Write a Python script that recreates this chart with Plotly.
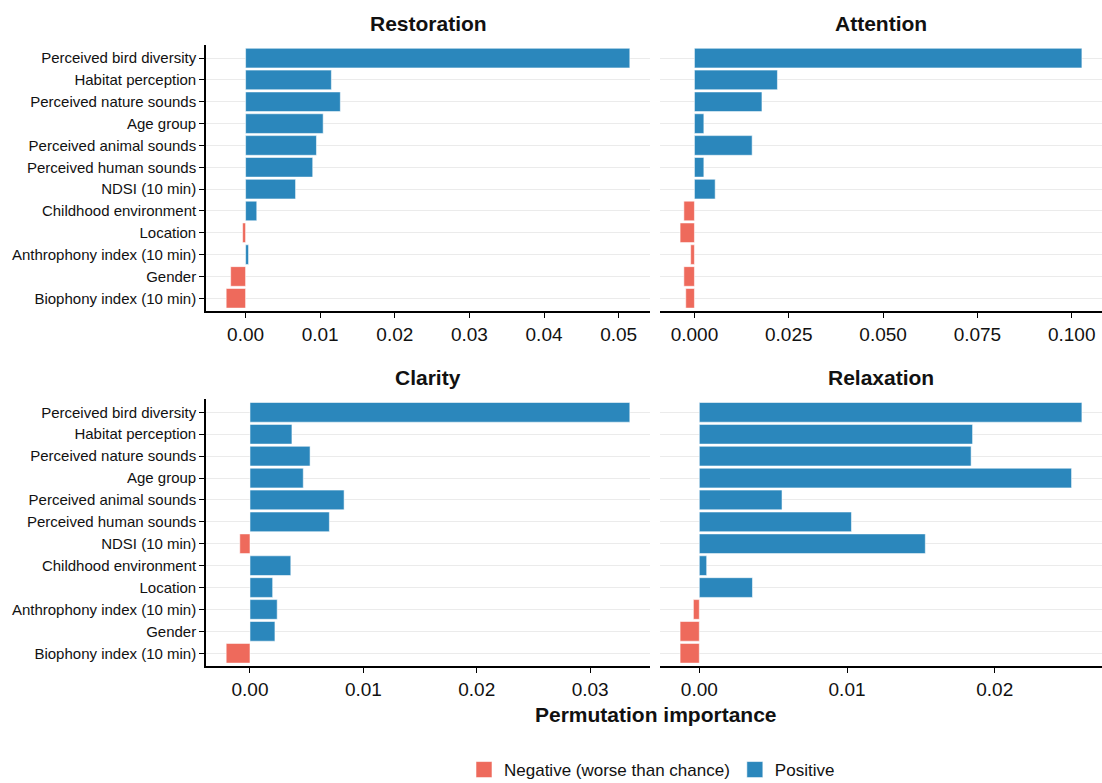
import plotly.graph_objects as go

# ---------------- data ----------------
features = [
    "Perceived bird diversity", "Habitat perception", "Perceived nature sounds",
    "Age group", "Perceived animal sounds", "Perceived human sounds",
    "NDSI (10 min)", "Childhood environment", "Location",
    "Anthrophony index (10 min)", "Gender", "Biophony index (10 min)",
]
outcomes = ["Restoration", "Attention", "Clarity", "Relaxation"]

restoration = [0.0515, 0.0115, 0.0127, 0.0104, 0.0095, 0.0090,
               0.0067, 0.0015, -0.0004, 0.0004, -0.0020, -0.0026]
attention = [0.1027, 0.0220, 0.0179, 0.0025, 0.0153, 0.0025,
             0.0055, -0.0028, -0.0038, -0.0010, -0.0028, -0.0023]
clarity = [0.0335, 0.0037, 0.0053, 0.0047, 0.0083, 0.0070,
           -0.0009, 0.0036, 0.0020, 0.0024, 0.0022, -0.0021]
relaxation = [0.0259, 0.0185, 0.0184, 0.0252, 0.0056, 0.0103,
              0.0153, 0.0005, 0.0036, -0.0004, -0.0013, -0.0013]

x_dticks = [0.01, 0.025, 0.01, 0.01]
x_formats = [".2f", ".3f", ".2f", ".2f"]

legend_names = ["Negative (worse than chance)", "Positive"]
colors = {"neg": "#EE6A5C", "pos": "#2B87BC"}

series = [restoration, attention, clarity, relaxation]

# ---------------- layout geometry ----------------
W, H = 1102, 783
ML, MR, MT, MB = 206, 0, 45, 116
PW, PH = W - ML - MR, H - MT - MB


def clamp(v):
    return max(0.0, min(1.0, v))


def px_x(a, b):
    return [clamp((a - ML) / PW), clamp((b - ML) / PW)]


def px_y(top, bottom):
    return [clamp((MT + PH - bottom) / PH), clamp((MT + PH - top) / PH)]


x_domains = [px_x(206, 650), px_x(660, 1102), px_x(206, 650), px_x(660, 1102)]
y_domains = [px_y(45, 311.4), px_y(45, 311.4), px_y(399.2, 666.4), px_y(399.2, 666.4)]

FONT = "Liberation Sans, Arial, sans-serif"

fig = go.Figure()

for i, (name, vals) in enumerate(zip(outcomes, series)):
    ax = "" if i == 0 else str(i + 1)
    neg_f = [f for f, v in zip(features, vals) if v < 0]
    neg_v = [v for v in vals if v < 0]
    pos_f = [f for f, v in zip(features, vals) if v >= 0]
    pos_v = [v for v in vals if v >= 0]
    for key, fs, vs, lname in (("neg", neg_f, neg_v, legend_names[0]),
                               ("pos", pos_f, pos_v, legend_names[1])):
        fig.add_trace(go.Bar(
            x=vs, y=fs, orientation="h",
            xaxis="x" + ax, yaxis="y" + ax,
            name=lname, legendgroup=key, showlegend=False,
            width=0.9,
            marker=dict(color=colors[key],
                        line=dict(color="rgba(255,255,255,0.55)", width=1)),
        ))

    lo = min(0, min(vals))
    hi = max(0, max(vals))
    pad = 0.05 * (hi - lo)
    left_col = i in (0, 2)
    fig.layout["xaxis" + ax] = dict(
        domain=x_domains[i], anchor="y" + ax,
        range=[lo - pad, hi + pad],
        tick0=0, dtick=x_dticks[i], tickformat=x_formats[i],
        showline=True, linecolor="black", linewidth=1.6,
        ticks="outside", ticklen=5, tickwidth=1.3, tickcolor="black",
        showgrid=False, zeroline=False,
        tickfont=dict(family=FONT, size=19, color="#111111"),
    )
    fig.layout["yaxis" + ax] = dict(
        domain=y_domains[i], anchor="x" + ax,
        type="category", categoryorder="array", categoryarray=features,
        range=[len(features) - 0.4, -0.6],
        showgrid=True, gridcolor="#EBEBEB", gridwidth=1,
        showline=left_col, linecolor="black", linewidth=1.6,
        ticks="outside" if left_col else "", ticklen=5, tickwidth=1.3, tickcolor="black",
        showticklabels=left_col,
        tickfont=dict(family=FONT, size=15, color="#111111"),
        zeroline=False,
    )
    fig.add_annotation(
        text="<b>%s</b>" % name, xref="x%s domain" % ax, yref="y%s domain" % ax,
        x=0.5, y=1, yanchor="bottom", yshift=8, showarrow=False,
        font=dict(family=FONT, size=21, color="#111111"),
    )

# legend keys (fill colours of the two bar groups)
for key, lname in (("neg", legend_names[0]), ("pos", legend_names[1])):
    fig.add_trace(go.Scatter(
        x=[None], y=[None], mode="markers", name=lname, legendgroup=key,
        marker=dict(symbol="square", size=22, color=colors[key],
                    line=dict(color="rgba(255,255,255,0.55)", width=1)),
        showlegend=True, hoverinfo="skip",
    ))

fig.add_annotation(
    text="<b>Permutation importance</b>", xref="paper", yref="paper",
    x=(655.5 - ML) / PW, y=(MT + PH - 714) / PH, xanchor="center", yanchor="middle",
    showarrow=False, font=dict(family=FONT, size=21, color="#111111"),
)

fig.update_layout(
    width=W, height=H,
    margin=dict(l=ML, r=MR, t=MT, b=MB, autoexpand=False),
    plot_bgcolor="white", paper_bgcolor="white",
    barmode="overlay", bargap=0.1,
    showlegend=True,
    legend=dict(
        orientation="h", x=(652 - ML) / PW, xanchor="center",
        y=(MT + PH - 752) / PH, yanchor="top",
        font=dict(family=FONT, size=17, color="#111111"),
        bgcolor="rgba(0,0,0,0)", traceorder="normal", itemsizing="trace",
    ),
    font=dict(family=FONT),
)

fig.write_html("out.html")
